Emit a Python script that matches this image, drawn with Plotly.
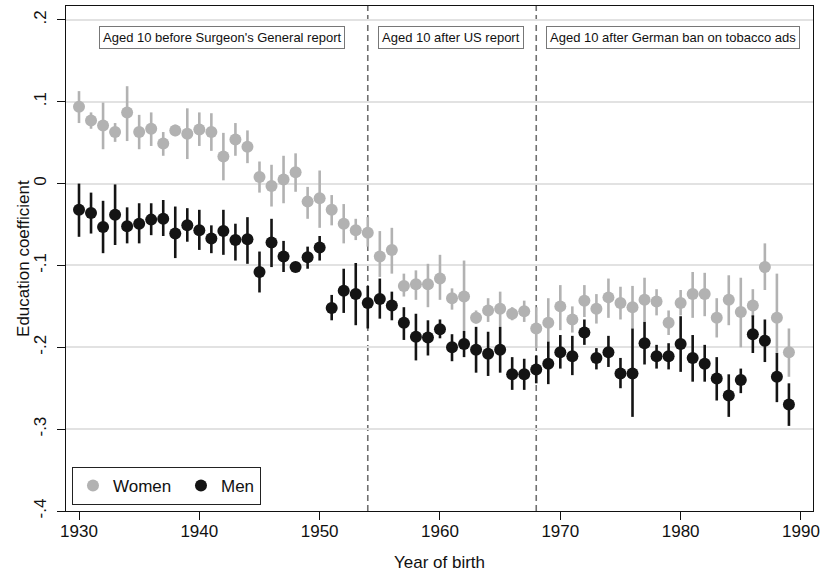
import plotly.graph_objects as go

years = list(range(1930, 1990))

women = [0.094, 0.077, 0.071, 0.063, 0.087, 0.063, 0.067, 0.049, 0.065, 0.061,
         0.066, 0.063, 0.033, 0.054, 0.045, 0.008, -0.003, 0.005, 0.014, -0.022,
         -0.018, -0.032, -0.049, -0.057, -0.060, -0.089, -0.081, -0.125, -0.123, -0.123,
         -0.116, -0.140, -0.138, -0.164, -0.155, -0.153, -0.159, -0.156, -0.177, -0.170,
         -0.150, -0.166, -0.143, -0.153, -0.139, -0.146, -0.151, -0.142, -0.144, -0.170,
         -0.146, -0.135, -0.135, -0.164, -0.142, -0.157, -0.149, -0.102, -0.164, -0.206]
women_lo = [0.074, 0.067, 0.042, 0.051, 0.052, 0.042, 0.046, 0.034, 0.058, 0.030,
            0.046, 0.040, 0.004, 0.034, 0.025, -0.011, -0.028, -0.024, -0.010, -0.043,
            -0.054, -0.051, -0.073, -0.069, -0.077, -0.114, -0.110, -0.138, -0.142, -0.151,
            -0.142, -0.154, -0.180, -0.171, -0.169, -0.175, -0.167, -0.169, -0.201, -0.193,
            -0.179, -0.182, -0.163, -0.171, -0.164, -0.166, -0.177, -0.169, -0.161, -0.185,
            -0.161, -0.164, -0.162, -0.188, -0.173, -0.200, -0.163, -0.130, -0.208, -0.236]
women_hi = [0.113, 0.087, 0.099, 0.074, 0.119, 0.084, 0.087, 0.063, 0.072, 0.092,
            0.087, 0.086, 0.062, 0.074, 0.065, 0.027, 0.023, 0.034, 0.037, -0.004,
            0.016, -0.014, -0.025, -0.043, -0.041, -0.058, -0.054, -0.110, -0.106, -0.098,
            -0.087, -0.128, -0.094, -0.155, -0.140, -0.132, -0.151, -0.143, -0.151, -0.140,
            -0.124, -0.150, -0.124, -0.135, -0.116, -0.126, -0.125, -0.115, -0.129, -0.155,
            -0.130, -0.108, -0.109, -0.140, -0.112, -0.115, -0.129, -0.073, -0.110, -0.177]

men = [-0.032, -0.036, -0.053, -0.038, -0.052, -0.049, -0.044, -0.043, -0.061, -0.051,
       -0.057, -0.067, -0.058, -0.069, -0.068, -0.108, -0.072, -0.089, -0.102, -0.090,
       -0.078, -0.152, -0.131, -0.135, -0.146, -0.141, -0.149, -0.170, -0.187, -0.188,
       -0.178, -0.200, -0.196, -0.203, -0.208, -0.203, -0.233, -0.233, -0.227, -0.220,
       -0.206, -0.211, -0.182, -0.213, -0.206, -0.232, -0.232, -0.195, -0.211, -0.211,
       -0.196, -0.213, -0.220, -0.238, -0.259, -0.240, -0.184, -0.192, -0.236, -0.270]
men_lo = [-0.065, -0.061, -0.085, -0.075, -0.073, -0.073, -0.063, -0.064, -0.091, -0.071,
          -0.081, -0.085, -0.087, -0.094, -0.098, -0.133, -0.102, -0.108, -0.108, -0.104,
          -0.094, -0.167, -0.158, -0.173, -0.177, -0.165, -0.167, -0.191, -0.216, -0.210,
          -0.189, -0.217, -0.212, -0.231, -0.235, -0.231, -0.252, -0.252, -0.244, -0.245,
          -0.226, -0.234, -0.197, -0.227, -0.224, -0.250, -0.285, -0.221, -0.226, -0.227,
          -0.230, -0.242, -0.242, -0.265, -0.285, -0.256, -0.207, -0.218, -0.267, -0.296]
men_hi = [0.000, -0.011, -0.021, -0.001, -0.029, -0.024, -0.024, -0.020, -0.028, -0.030,
          -0.032, -0.051, -0.032, -0.049, -0.041, -0.083, -0.043, -0.070, -0.096, -0.077,
          -0.064, -0.136, -0.104, -0.097, -0.125, -0.116, -0.132, -0.151, -0.159, -0.167,
          -0.166, -0.184, -0.180, -0.175, -0.181, -0.175, -0.212, -0.214, -0.210, -0.193,
          -0.185, -0.186, -0.166, -0.201, -0.186, -0.213, -0.177, -0.169, -0.197, -0.195,
          -0.162, -0.185, -0.197, -0.212, -0.233, -0.226, -0.161, -0.166, -0.207, -0.244]

y_ticks = [0.2, 0.1, 0.0, -0.1, -0.2, -0.3, -0.4]
y_tick_labels = [".2", ".1", "0", "-.1", "-.2", "-.3", "-.4"]
x_ticks = [1930, 1940, 1950, 1960, 1970, 1980, 1990]
cutoffs = [1954, 1968]
period_labels = ["Aged 10 before Surgeon's General report",
                 "Aged 10 after US report",
                 "Aged 10 after German ban on tobacco ads"]
period_centers = [1941.9, 1960.9, 1979.4]

FONT = "Liberation Sans, Arial, sans-serif"
GRAY = "#b2b2b2"
BLACK = "#141414"
NB = "\u00a0"

fig = go.Figure()
fig.add_trace(go.Scatter(
    x=years, y=women, mode="markers", name="Women" + NB,
    marker=dict(color=GRAY, size=12),
    error_y=dict(type="data", symmetric=False,
                 array=[h - v for h, v in zip(women_hi, women)],
                 arrayminus=[v - l for v, l in zip(women, women_lo)],
                 color=GRAY, thickness=2.6, width=0),
))
fig.add_trace(go.Scatter(
    x=years, y=men, mode="markers", name="Men",
    marker=dict(color=BLACK, size=12),
    error_y=dict(type="data", symmetric=False,
                 array=[h - v for h, v in zip(men_hi, men)],
                 arrayminus=[v - l for v, l in zip(men, men_lo)],
                 color=BLACK, thickness=2.6, width=0),
))

for c in cutoffs:
    fig.add_shape(type="line", x0=c, x1=c, xref="x", y0=0, y1=1, yref="paper",
                  line=dict(color="#707070", width=1.6, dash="6px,4px"), layer="below")

for txt, xc in zip(period_labels, period_centers):
    fig.add_annotation(x=xc, y=0.178, xref="x", yref="y", text=txt, showarrow=False,
                       font=dict(family=FONT, size=13, color="#111"),
                       bgcolor="white", bordercolor="#777", borderwidth=1, borderpad=3)

# y-axis title placed close to the rotated tick labels (Stata style)
fig.add_annotation(x=-0.057, y=0.5, xref="paper", yref="paper", text="Education coefficient",
                   textangle=-90, showarrow=False, xanchor="center", yanchor="middle",
                   font=dict(family=FONT, size=17, color="#111"))

fig.update_layout(
    width=820, height=575,
    margin=dict(l=66, r=7, t=6, b=64),
    paper_bgcolor="white", plot_bgcolor="white",
    font=dict(family=FONT, size=17, color="#111"),
    showlegend=True,
    legend=dict(orientation="h", x=0.008, y=0.012, xanchor="left", yanchor="bottom",
                bordercolor="#222", borderwidth=1, bgcolor="white",
                font=dict(family=FONT, size=17, color="#111"),
                itemsizing="constant"),
    xaxis=dict(range=[1928.92, 1991.0], tickvals=x_ticks, showgrid=False, zeroline=False,
               showline=True, linecolor="#111", linewidth=1.3, mirror=True,
               ticks="outside", ticklen=8, tickcolor="#111", tickwidth=1.3,
               automargin=False, ticklabelstandoff=-4,
               title=dict(text="Year of birth", font=dict(size=17), standoff=16),
               tickfont=dict(size=17)),
    yaxis=dict(range=[-0.4, 0.217], tickvals=y_ticks, ticktext=y_tick_labels,
               tickangle=-90, showgrid=True, gridcolor="#e2e2e2", gridwidth=1.5,
               zeroline=False, showline=True, linecolor="#111", linewidth=1.3, mirror=True,
               ticks="outside", ticklen=8, tickcolor="#111", tickwidth=1.3,
               ticklabelstandoff=4, automargin=False,
               tickfont=dict(size=17)),
)

fig.write_html("out.html", post_script="document.body.style.margin='0px';",
               config={"displayModeBar": False})
